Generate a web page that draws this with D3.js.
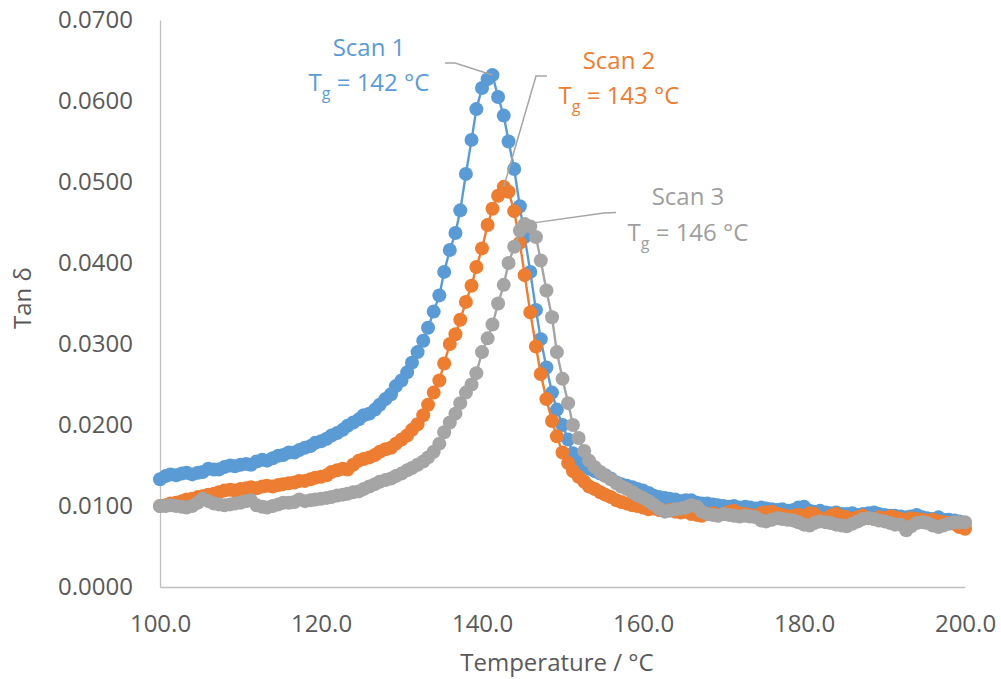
<!DOCTYPE html>
<html>
<head>
<meta charset="utf-8">
<script src="https://cdn.jsdelivr.net/npm/d3@7"></script>
<style>
	body { margin: 0; background: #fff; }
	svg text { font-family: "Open Sans", sans-serif; }
</style>
</head>
<body>
<svg id="chart" width="1001" height="679"></svg>
<script>
// sample temperatures (°C), shared by the three scans
const temps = [
	100.0, 100.7, 101.3, 102.0, 102.7, 103.3, 104.0, 104.7, 105.3, 106.0, 106.7, 107.3,
	108.0, 108.7, 109.3, 110.0, 110.7, 111.3, 112.0, 112.7, 113.3, 114.0, 114.7, 115.3,
	116.0, 116.7, 117.3, 118.0, 118.7, 119.3, 120.0, 120.7, 121.3, 122.0, 122.7, 123.3,
	124.0, 124.7, 125.3, 126.0, 126.7, 127.3, 128.0, 128.7, 129.3, 130.0, 130.7, 131.3,
	132.0, 132.7, 133.3, 134.0, 134.7, 135.3, 136.0, 136.7, 137.3, 138.0, 138.7, 139.3,
	140.0, 140.7, 141.3, 142.0, 142.7, 143.3, 144.0, 144.7, 145.3, 146.0, 146.7, 147.3,
	148.0, 148.7, 149.3, 150.0, 150.7, 151.3, 152.0, 152.7, 153.3, 154.0, 154.7, 155.3,
	156.0, 156.7, 157.3, 158.0, 158.7, 159.3, 160.0, 160.7, 161.3, 162.0, 162.7, 163.3,
	164.0, 164.7, 165.3, 166.0, 166.7, 167.3, 168.0, 168.7, 169.3, 170.0, 170.7, 171.3,
	172.0, 172.7, 173.3, 174.0, 174.7, 175.3, 176.0, 176.7, 177.3, 178.0, 178.7, 179.3,
	180.0, 180.7, 181.3, 182.0, 182.7, 183.3, 184.0, 184.7, 185.3, 186.0, 186.7, 187.3,
	188.0, 188.7, 189.3, 190.0, 190.7, 191.3, 192.0, 192.7, 193.3, 194.0, 194.7, 195.3,
	196.0, 196.7, 197.3, 198.0, 198.7, 199.3, 200.0
];

// tan delta, scan 1
const scan1 = [
	0.0133, 0.0137, 0.0139, 0.0138, 0.0140, 0.0141, 0.0139, 0.0141, 0.0142, 0.0146, 0.0145, 0.0145,
	0.0148, 0.0150, 0.0149, 0.0151, 0.0152, 0.0151, 0.0155, 0.0157, 0.0156, 0.0159, 0.0162, 0.0163,
	0.0166, 0.0166, 0.0169, 0.0172, 0.0174, 0.0178, 0.0180, 0.0183, 0.0187, 0.0190, 0.0194, 0.0199,
	0.0203, 0.0207, 0.0212, 0.0214, 0.0219, 0.0225, 0.0232, 0.0238, 0.0248, 0.0255, 0.0265, 0.0277,
	0.0290, 0.0304, 0.0320, 0.0340, 0.0360, 0.0389, 0.0416, 0.0437, 0.0465, 0.0510, 0.0552, 0.0590,
	0.0616, 0.0627, 0.0632, 0.0605, 0.0582, 0.0550, 0.0516, 0.0470, 0.0432, 0.0389, 0.0342, 0.0306,
	0.0271, 0.0240, 0.0219, 0.0200, 0.0182, 0.0165, 0.0156, 0.0151, 0.0146, 0.0143, 0.0140, 0.0138,
	0.0134, 0.0129, 0.0127, 0.0125, 0.0123, 0.0121, 0.0119, 0.0116, 0.0113, 0.0111, 0.0110, 0.0109,
	0.0108, 0.0106, 0.0107, 0.0107, 0.0104, 0.0103, 0.0103, 0.0102, 0.0101, 0.0100, 0.0099, 0.0100,
	0.0098, 0.0099, 0.0098, 0.0097, 0.0098, 0.0097, 0.0096, 0.0095, 0.0096, 0.0094, 0.0095, 0.0098,
	0.0099, 0.0094, 0.0093, 0.0094, 0.0092, 0.0091, 0.0092, 0.0090, 0.0090, 0.0091, 0.0089, 0.0090,
	0.0091, 0.0092, 0.0090, 0.0089, 0.0088, 0.0088, 0.0087, 0.0086, 0.0087, 0.0089, 0.0086, 0.0085,
	0.0084, 0.0086, 0.0083, 0.0083, 0.0082, 0.0081, 0.0079
];

// tan delta, scan 2
const scan2 = [
	0.0100, 0.0101, 0.0103, 0.0104, 0.0106, 0.0108, 0.0109, 0.0111, 0.0112, 0.0114, 0.0115, 0.0117,
	0.0119, 0.0120, 0.0119, 0.0121, 0.0122, 0.0123, 0.0122, 0.0124, 0.0125, 0.0124, 0.0126, 0.0127,
	0.0128, 0.0129, 0.0131, 0.0131, 0.0133, 0.0135, 0.0136, 0.0138, 0.0142, 0.0144, 0.0146, 0.0145,
	0.0151, 0.0156, 0.0158, 0.0160, 0.0163, 0.0167, 0.0170, 0.0172, 0.0177, 0.0182, 0.0187, 0.0194,
	0.0201, 0.0212, 0.0225, 0.0240, 0.0255, 0.0276, 0.0300, 0.0312, 0.0330, 0.0352, 0.0372, 0.0395,
	0.0418, 0.0447, 0.0467, 0.0483, 0.0494, 0.0488, 0.0464, 0.0425, 0.0385, 0.0339, 0.0297, 0.0263,
	0.0232, 0.0205, 0.0186, 0.0166, 0.0153, 0.0143, 0.0136, 0.0130, 0.0124, 0.0121, 0.0117, 0.0114,
	0.0111, 0.0107, 0.0105, 0.0103, 0.0101, 0.0100, 0.0098, 0.0096, 0.0097, 0.0095, 0.0094, 0.0095,
	0.0093, 0.0092, 0.0093, 0.0090, 0.0089, 0.0088, 0.0090, 0.0091, 0.0089, 0.0090, 0.0093, 0.0094,
	0.0091, 0.0090, 0.0089, 0.0088, 0.0091, 0.0092, 0.0093, 0.0090, 0.0089, 0.0087, 0.0088, 0.0089,
	0.0088, 0.0091, 0.0090, 0.0085, 0.0082, 0.0088, 0.0090, 0.0087, 0.0086, 0.0084, 0.0086, 0.0088,
	0.0085, 0.0084, 0.0086, 0.0085, 0.0087, 0.0086, 0.0084, 0.0083, 0.0085, 0.0084, 0.0083, 0.0082,
	0.0083, 0.0081, 0.0080, 0.0079, 0.0078, 0.0074, 0.0072
];

// tan delta, scan 3
const scan3 = [
	0.0100, 0.0100, 0.0101, 0.0100, 0.0099, 0.0098, 0.0100, 0.0104, 0.0109, 0.0106, 0.0103, 0.0102,
	0.0101, 0.0102, 0.0103, 0.0104, 0.0106, 0.0107, 0.0101, 0.0099, 0.0098, 0.0100, 0.0102, 0.0104,
	0.0104, 0.0105, 0.0108, 0.0106, 0.0107, 0.0108, 0.0109, 0.0110, 0.0111, 0.0113, 0.0114, 0.0115,
	0.0117, 0.0118, 0.0121, 0.0124, 0.0127, 0.0130, 0.0132, 0.0134, 0.0137, 0.0140, 0.0144, 0.0147,
	0.0151, 0.0155, 0.0160, 0.0167, 0.0177, 0.0191, 0.0203, 0.0214, 0.0227, 0.0240, 0.0250, 0.0264,
	0.0290, 0.0307, 0.0324, 0.0350, 0.0373, 0.0400, 0.0420, 0.0440, 0.0448, 0.0445, 0.0432, 0.0403,
	0.0366, 0.0333, 0.0290, 0.0257, 0.0227, 0.0200, 0.0184, 0.0168, 0.0156, 0.0148, 0.0142, 0.0137,
	0.0133, 0.0128, 0.0124, 0.0121, 0.0117, 0.0113, 0.0110, 0.0106, 0.0102, 0.0097, 0.0093, 0.0094,
	0.0096, 0.0097, 0.0098, 0.0101, 0.0099, 0.0093, 0.0090, 0.0089, 0.0088, 0.0090, 0.0089, 0.0088,
	0.0087, 0.0088, 0.0087, 0.0086, 0.0082, 0.0081, 0.0083, 0.0085, 0.0084, 0.0083, 0.0082, 0.0080,
	0.0077, 0.0076, 0.0079, 0.0081, 0.0080, 0.0079, 0.0077, 0.0076, 0.0075, 0.0078, 0.0081, 0.0084,
	0.0085, 0.0084, 0.0082, 0.0081, 0.0079, 0.0077, 0.0077, 0.0070, 0.0075, 0.0079, 0.0080, 0.0079,
	0.0076, 0.0074, 0.0076, 0.0078, 0.0080, 0.0080, 0.0080
];

const seriesNames = ['Scan 1', 'Scan 2', 'Scan 3'];
const seriesValues = [scan1, scan2, scan3];
const tgValues = ['142', '143', '146'];
const xTicks = [100, 120, 140, 160, 180, 200];
const yTicks = [0, 0.01, 0.02, 0.03, 0.04, 0.05, 0.06, 0.07];

const colors = ['#5B9BD5', '#ED7D31', '#A5A5A5'];
const textColors = ['#5B9BD5', '#ED7D31', '#9E9E9E'];

const svg = d3.select('#chart');

const x = d3.scaleLinear().domain([100, 200]).range([160, 965]);
const y = d3.scaleLinear().domain([0, 0.07]).range([587, 20]);

// axes
const xAxis = svg.append('g')
	.attr('transform', `translate(0,${y(0)})`)
	.call(d3.axisBottom(x).tickValues(xTicks).tickFormat(d3.format('.1f')).tickSize(0).tickSizeOuter(0).tickPadding(28));

const yAxis = svg.append('g')
	.attr('transform', `translate(${x(100)},0)`)
	.call(d3.axisLeft(y).tickValues(yTicks).tickFormat(d3.format('.4f')).tickSize(0).tickSizeOuter(0).tickPadding(27));

[xAxis, yAxis].forEach(a => {
	a.select('.domain').attr('stroke', '#BFBFBF').attr('stroke-width', 1.3);
	a.selectAll('text').attr('fill', '#595959').style('font-size', '24px');
});

// axis titles
svg.append('text')
	.attr('transform', 'translate(31,298) rotate(-90)')
	.attr('text-anchor', 'middle')
	.attr('fill', '#595959')
	.style('font-size', '24px')
	.text('Tan δ');

svg.append('text')
	.attr('x', 557)
	.attr('y', 671)
	.attr('text-anchor', 'middle')
	.attr('fill', '#595959')
	.style('font-size', '24px')
	.text('Temperature / °C');

// series
const line = d3.line()
	.x((d, i) => x(temps[i]))
	.y(d => y(d));

seriesValues.forEach((vals, s) => {
	const g = svg.append('g').attr('class', 'series');
	g.append('path')
		.datum(vals)
		.attr('fill', 'none')
		.attr('stroke', colors[s])
		.attr('stroke-width', 2.4)
		.attr('stroke-linejoin', 'round')
		.attr('d', line);
	g.selectAll('circle')
		.data(vals)
		.enter()
		.append('circle')
		.attr('cx', (d, i) => x(temps[i]))
		.attr('cy', d => y(d))
		.attr('r', 7)
		.attr('fill', colors[s]);
});

// data labels with leader lines
const labelPos = [
	{ cx: 369, y1: 56, y2: 91, elbow: [[445, 63], [455, 63]] },
	{ cx: 619, y1: 69, y2: 104, elbow: [[547, 76], [536, 76]] },
	{ cx: 688, y1: 205, y2: 241, elbow: [[616, 212.5], [604, 213]] }
];

seriesValues.forEach((vals, s) => {
	const p = labelPos[s];
	const peak = d3.maxIndex(vals);
	const pts = p.elbow.concat([[x(temps[peak]), y(vals[peak])]]);
	svg.append('path')
		.attr('d', d3.line()(pts))
		.attr('fill', 'none')
		.attr('stroke', '#A5A5A5')
		.attr('stroke-width', 1.5);

	svg.append('text')
		.attr('x', p.cx)
		.attr('y', p.y1)
		.attr('text-anchor', 'middle')
		.attr('fill', textColors[s])
		.style('font-size', '24px')
		.text(seriesNames[s]);

	const t = svg.append('text')
		.attr('x', p.cx)
		.attr('y', p.y2)
		.attr('text-anchor', 'middle')
		.attr('fill', textColors[s])
		.style('font-size', '24px');
	t.append('tspan').text('T');
	t.append('tspan').attr('dy', 8).style('font-size', '16px').text('g');
	t.append('tspan').attr('dy', -8).text(` = ${tgValues[s]} °C`);
});
</script>
</body>
</html>
